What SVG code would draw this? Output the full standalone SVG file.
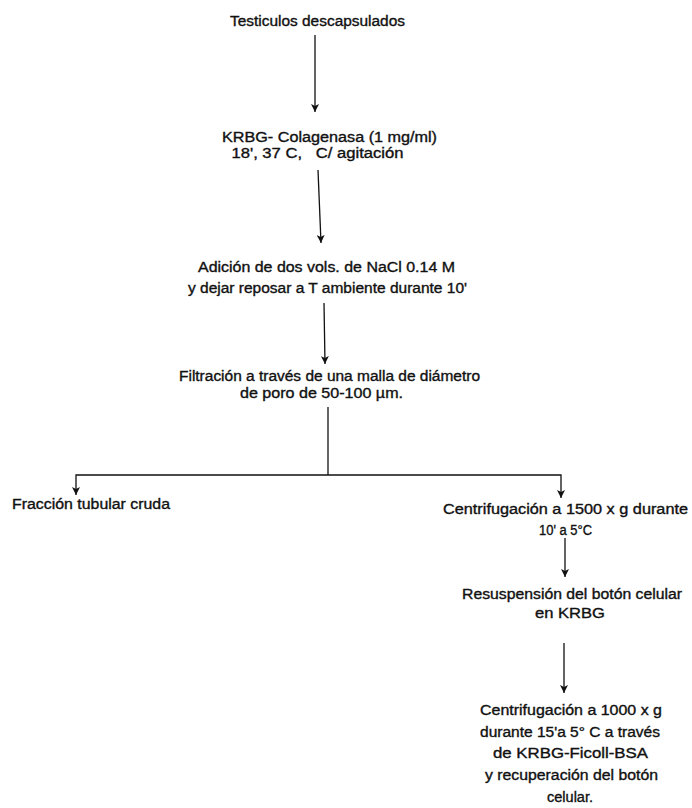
<svg xmlns="http://www.w3.org/2000/svg" width="692" height="808" viewBox="0 0 692 808">
<style>
text{font-family:"Liberation Sans","DejaVu Sans",sans-serif;font-size:14px;fill:#111;stroke:#111;stroke-width:0.35;text-anchor:middle}
.c{stroke:#111;stroke-width:1.3;fill:none}
</style>
<defs>
<marker id="ah" viewBox="0 0 8 8" refX="8" refY="4" markerWidth="8" markerHeight="8" markerUnits="userSpaceOnUse" orient="auto-start-reverse">
<path d="M0,0 L2,4 L0,8 L8,4 Z" fill="#111"/>
</marker>
</defs>
<rect width="692" height="808" fill="#fff"/>
<g id="n1"><text x="317.5" y="26" textLength="175" lengthAdjust="spacingAndGlyphs">Testiculos descapsulados</text></g>
<g id="n2"><text x="329.5" y="142" textLength="215" lengthAdjust="spacingAndGlyphs">KRBG- Colagenasa  (1 mg/ml)</text>
<text x="317.5" y="158" textLength="172" lengthAdjust="spacingAndGlyphs" xml:space="preserve">18', 37 C,   C/ agitación</text></g>
<g id="n3"><text x="326.5" y="272" textLength="257" lengthAdjust="spacingAndGlyphs">Adición de dos vols. de NaCl 0.14 M</text>
<text x="327.5" y="293" textLength="279" lengthAdjust="spacingAndGlyphs">y dejar reposar a T ambiente durante 10'</text></g>
<g id="n4"><text x="329.5" y="381" textLength="301" lengthAdjust="spacingAndGlyphs">Filtración a través de una malla de diámetro</text>
<text x="321.5" y="398" textLength="163" lengthAdjust="spacingAndGlyphs">de poro de 50-100 µm.</text></g>
<g id="n5"><text x="91" y="509" textLength="158" lengthAdjust="spacingAndGlyphs">Fracción tubular cruda</text></g>
<g id="n6"><text x="565.5" y="514" textLength="245" lengthAdjust="spacingAndGlyphs">Centrifugación a 1500 x g durante</text>
<text x="565.5" y="535" textLength="53" lengthAdjust="spacingAndGlyphs">10' a 5°C</text></g>
<g id="n7"><text x="572" y="599" textLength="220" lengthAdjust="spacingAndGlyphs">Resuspensión del botón celular</text>
<text x="570" y="618" textLength="70" lengthAdjust="spacingAndGlyphs">en KRBG</text></g>
<g id="n8"><text x="571" y="715" textLength="182" lengthAdjust="spacingAndGlyphs">Centrifugación a 1000 x g</text>
<text x="570" y="737" textLength="180" lengthAdjust="spacingAndGlyphs">durante 15'a 5° C a través</text>
<text x="570.5" y="758" textLength="155" lengthAdjust="spacingAndGlyphs">de KRBG-Ficoll-BSA</text>
<text x="571.5" y="780" textLength="173" lengthAdjust="spacingAndGlyphs">y recuperación del botón</text>
<text x="570" y="802" textLength="46" lengthAdjust="spacingAndGlyphs">celular.</text></g>
<g id="connectors">
<line class="c" x1="315" y1="35" x2="315" y2="112" marker-end="url(#ah)"/>
<line class="c" x1="318" y1="170" x2="321" y2="243" marker-end="url(#ah)"/>
<line class="c" x1="324" y1="303" x2="325" y2="364" marker-end="url(#ah)"/>
<line class="c" x1="328" y1="407" x2="328" y2="475"/>
<polyline class="c" points="76,495 76,475 561,475 561,498" marker-start="url(#ah)" marker-end="url(#ah)"/>
<line class="c" x1="565" y1="538" x2="565" y2="577" marker-end="url(#ah)"/>
<line class="c" x1="564" y1="643" x2="564" y2="693" marker-end="url(#ah)"/>
</g>
</svg>
